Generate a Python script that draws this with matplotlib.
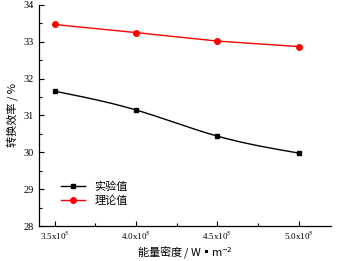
import numpy as np
import matplotlib
matplotlib.use("Agg")
import matplotlib.pyplot as plt

x = [3.5, 4.0, 4.5, 5.0]
exp_vals = [31.66, 31.15, 30.44, 29.98]
theo_vals = [33.47, 33.25, 33.02, 32.87]
xtick_labels = [r"3.5x10$^5$", r"4.0x10$^5$", r"4.5x10$^5$", r"5.0x10$^5$"]

def natural_spline(xs, ys, n=200):
    xs = np.asarray(xs, float); ys = np.asarray(ys, float)
    k = len(xs); h = np.diff(xs)
    A = np.zeros((k, k)); b = np.zeros(k)
    A[0, 0] = A[-1, -1] = 1
    for i in range(1, k - 1):
        A[i, i - 1] = h[i - 1]; A[i, i] = 2 * (h[i - 1] + h[i]); A[i, i + 1] = h[i]
        b[i] = 3 * ((ys[i + 1] - ys[i]) / h[i] - (ys[i] - ys[i - 1]) / h[i - 1])
    c = np.linalg.solve(A, b)
    xx = np.linspace(xs[0], xs[-1], n); yy = np.empty_like(xx)
    for j, t in enumerate(xx):
        i = min(np.searchsorted(xs, t, side='right') - 1, k - 2)
        bi = (ys[i + 1] - ys[i]) / h[i] - h[i] * (2 * c[i] + c[i + 1]) / 3
        di = (c[i + 1] - c[i]) / (3 * h[i])
        d = t - xs[i]
        yy[j] = ys[i] + bi * d + c[i] * d ** 2 + di * d ** 3
    return xx, yy

plt.rcParams['font.family'] = ['Liberation Serif', 'Noto Sans CJK SC']
plt.rcParams['mathtext.fontset'] = 'stix'

fig = plt.figure(figsize=(3.38, 2.61), dpi=100)
ax = fig.add_axes([0.115, 0.134, 0.865, 0.847])

sx, sy = natural_spline(x, exp_vals)
ax.plot(sx, sy, color='black', lw=1.0)
ax.plot(x, exp_vals, 's', color='black', ms=3.5)
ax.plot([], [], 's-', color='black', ms=3.5, lw=1.0, label='实验值')
ax.plot(x, theo_vals, 'o-', color='red', ms=4, lw=1.0, label='理论值')

ax.set_xlim(3.403, 5.2)
ax.set_ylim(28, 34)
ax.set_xticks(x)
ax.set_xticklabels(xtick_labels, fontsize=6.5)
ax.set_xticks([3.75, 4.25, 4.75], minor=True)
ax.set_yticks(range(28, 35))
ax.set_yticks(np.arange(28.5, 34, 1), minor=True)
ax.tick_params(axis='y', labelsize=7.5)
ax.tick_params(axis='x', pad=3)
ax.tick_params(which='both', direction='in', width=0.8)
ax.tick_params(which='major', length=3.5)
ax.tick_params(which='minor', length=2)
for s in ['top', 'right']:
    ax.spines[s].set_visible(False)
for s in ['left', 'bottom']:
    ax.spines[s].set_linewidth(0.9)

ax.set_ylabel('转换效率 / %', fontsize=8, family=['Noto Sans CJK SC', 'Liberation Serif'])
ax.set_xlabel(r'能量密度 / W▪m$^{\mathregular{-2}}$', fontsize=8, labelpad=1,
              family=['Noto Sans CJK SC', 'Liberation Serif'])

ax.legend(loc='lower left', bbox_to_anchor=(0.06, 0.07), frameon=False,
          prop={'family': ['Noto Sans CJK SC'], 'size': 8},
          handlelength=2.2, borderaxespad=0, labelspacing=0.3)

fig.savefig('out.png', dpi=100)
